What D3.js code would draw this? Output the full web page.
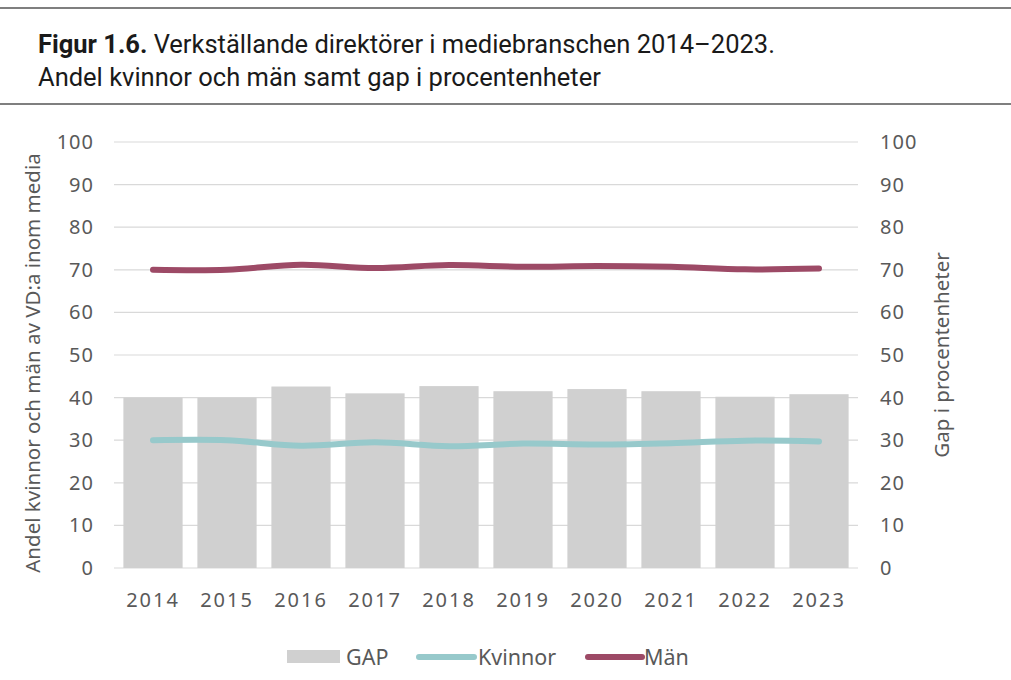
<!DOCTYPE html>
<html><head><meta charset="utf-8">
<script src="https://cdn.jsdelivr.net/npm/d3@7"></script>
<style>body{margin:0;background:#fff}svg{display:block}</style>
</head><body>
<svg id="c" width="1011" height="680"></svg>
<script>
const years = ["2014","2015","2016","2017","2018","2019","2020","2021","2022","2023"];
const gap = [40.0, 40.0, 42.6, 41.0, 42.7, 41.5, 42.0, 41.5, 40.2, 40.8];
const kvinnor = [30.0, 30.0, 28.7, 29.5, 28.6, 29.2, 29.0, 29.3, 29.9, 29.7];
const man = [70.0, 70.0, 71.2, 70.4, 71.1, 70.7, 70.9, 70.7, 70.1, 70.3];
const yTicks = [0,10,20,30,40,50,60,70,80,90,100];

(function(){
const svg = d3.select("#c");
const W = 1011;
const pL = 116, pR = 856, pT = 142, pB = 568;
const tickColor = "#595959";
const font = "'Noto Sans', sans-serif";

svg.append("line").attr("x1",0).attr("x2",W).attr("y1",8).attr("y2",8).attr("stroke","#555").attr("stroke-width",1.5);
svg.append("line").attr("x1",0).attr("x2",W).attr("y1",104).attr("y2",104).attr("stroke","#555").attr("stroke-width",1.5);

const t1 = svg.append("text").attr("x",38).attr("y",53).attr("font-family","Roboto, sans-serif").attr("font-size",25.5).attr("fill","#1a1a1a");
t1.append("tspan").attr("font-weight","bold").text("Figur 1.6.");
t1.append("tspan").text(" Verkställande direktörer i mediebranschen 2014–2023.");
svg.append("text").attr("x",38).attr("y",86).attr("font-family","Roboto, sans-serif").attr("font-size",25.5).attr("fill","#1a1a1a")
  .text("Andel kvinnor och män samt gap i procentenheter");

const x = d3.scaleBand().domain(years).range([pL, pR]).paddingInner(0.2).paddingOuter(0.1);
const yL = d3.scaleLinear().domain([0,100]).range([pB, pT]);
const yR = d3.scaleLinear().domain([0,100]).range([pB, pT]);

svg.append("g").selectAll("line").data(yTicks).join("line")
  .attr("x1", pL-2).attr("x2", pR+2)
  .attr("y1", d=>yL(d)).attr("y2", d=>yL(d))
  .attr("stroke","#d9d9d9").attr("stroke-width",1.2);

svg.append("g").selectAll("rect").data(years).join("rect")
  .attr("x", d=>x(d)).attr("width", x.bandwidth())
  .attr("y", (d,i)=>yR(gap[i])).attr("height", (d,i)=>yR(0)-yR(gap[i]))
  .attr("fill","#d0d0d0");

const cx = d => x(d) + x.bandwidth()/2;
const line = arr => d3.line().x((d,i)=>cx(years[i])).y(d=>yL(d)).curve(d3.curveCatmullRom.alpha(0.5))(arr);

svg.append("path").attr("d", line(kvinnor)).attr("fill","none").attr("stroke","#97c9cb").attr("stroke-width",6).attr("stroke-linecap","round");
svg.append("path").attr("d", line(man)).attr("fill","none").attr("stroke","#9d4a66").attr("stroke-width",6).attr("stroke-linecap","round");

const axL = svg.append("g").attr("transform",`translate(${pL-2},0)`).call(d3.axisLeft(yL).tickValues(yTicks).tickSize(0).tickPadding(20));
const axR = svg.append("g").attr("transform",`translate(${pR+2},0)`).call(d3.axisRight(yR).tickValues(yTicks).tickSize(0).tickPadding(22));
const axB = svg.append("g").attr("transform",`translate(0,${pB})`).call(d3.axisBottom(x).tickSize(0).tickPadding(25));
[axL,axR,axB].forEach(a=>{
  a.select(".domain").remove();
  a.selectAll("text").attr("font-family",font).attr("font-size",20).attr("fill",tickColor).attr("letter-spacing","1px");
});
axB.selectAll("text").attr("letter-spacing","2px");

svg.append("text").attr("transform",`translate(40,363) rotate(-90)`).attr("text-anchor","middle")
  .attr("font-family",font).attr("font-size",20.5).attr("fill",tickColor).text("Andel kvinnor och män av VD:a inom media");
svg.append("text").attr("transform",`translate(949,355) rotate(-90)`).attr("text-anchor","middle")
  .attr("font-family",font).attr("font-size",20.5).attr("fill",tickColor).text("Gap i procentenheter");

const lg = svg.append("g").attr("font-family",font).attr("font-size",21.5).attr("fill",tickColor);
lg.append("rect").attr("x",287).attr("y",650).attr("width",53).attr("height",13).attr("fill","#d0d0d0");
lg.append("text").attr("x",346).attr("y",665).text("GAP");
lg.append("line").attr("x1",419).attr("x2",474).attr("y1",657).attr("y2",657).attr("stroke","#97c9cb").attr("stroke-width",6).attr("stroke-linecap","round");
lg.append("text").attr("x",478).attr("y",665).text("Kvinnor");
lg.append("line").attr("x1",588).attr("x2",642).attr("y1",657).attr("y2",657).attr("stroke","#9d4a66").attr("stroke-width",6).attr("stroke-linecap","round");
lg.append("text").attr("x",644).attr("y",665).text("Män");
})();
</script>
</body></html>
